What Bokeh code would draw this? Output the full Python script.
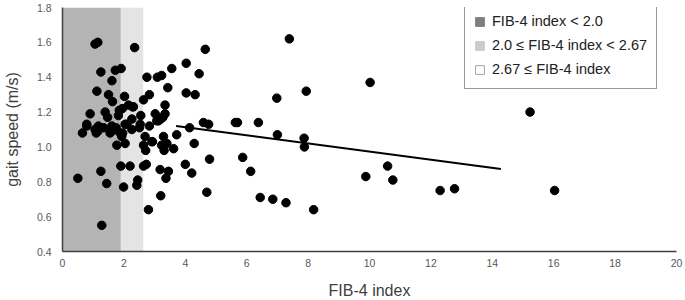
from bokeh.plotting import figure
from bokeh.models import FixedTicker, PrintfTickFormatter, Legend, LegendItem, Range1d
from bokeh.embed import file_html
from bokeh.resources import INLINE

# ---- data ----
fib4 = [0.50, 0.65, 0.79, 0.90, 1.06, 1.15, 1.12, 1.06, 1.10, 1.17, 1.25, 1.25, 1.28,
        1.39, 1.34, 1.47, 1.44, 1.50, 1.61, 1.60, 1.63, 1.72, 1.75, 1.77, 1.82, 1.85,
        1.91, 1.90, 1.95, 1.99, 2.02, 1.96, 2.04, 2.10, 2.15, 2.20, 2.26, 2.26, 2.31,
        2.35, 2.45, 2.42, 2.51, 2.55, 2.64, 2.64, 2.69, 2.71, 2.64, 2.73, 2.75, 2.80,
        2.83, 2.83, 2.91, 3.02, 3.09, 3.23, 3.13, 3.18, 3.20, 3.23, 3.27, 3.29, 3.31,
        3.34, 3.34, 3.37, 3.40, 3.43, 3.45, 3.56, 3.62, 3.72, 4.00, 4.03, 4.03, 4.14,
        4.21, 4.29, 4.32, 4.45, 4.59, 4.65, 4.70, 4.76, 4.79, 5.63, 5.70, 5.87, 6.13,
        6.38, 6.44, 6.85, 7.39, 10.02, 7.94, 6.98, 7.00, 7.87, 7.88, 10.59, 9.88, 10.76,
        7.28, 8.18, 15.23, 12.30, 12.77, 16.03,
        1.15, 1.61, 1.55, 1.72, 1.88, 1.93, 2.04, 2.53, 2.93, 3.07, 3.20, 2.28, 0.79]
gait = [0.82, 1.08, 1.13, 1.19, 1.59, 1.60, 1.32, 1.10, 1.08, 1.12, 1.43, 0.86, 0.55,
        1.20, 1.11, 1.17, 0.79, 1.30, 1.38, 1.09, 1.26, 1.44, 1.11, 1.01, 1.18, 1.21,
        1.45, 0.89, 1.22, 0.77, 1.29, 1.08, 1.02, 1.13, 1.24, 0.89, 1.10, 1.16, 1.23,
        1.57, 0.81, 0.78, 1.11, 1.18, 1.27, 1.01, 1.06, 0.98, 0.89, 0.90, 1.40, 0.64,
        1.30, 1.12, 1.03, 1.19, 1.40, 1.41, 1.15, 0.87, 0.72, 1.01, 1.17, 1.06, 0.98,
        1.24, 1.19, 0.82, 1.02, 1.34, 0.86, 1.45, 0.99, 1.07, 0.90, 1.48, 1.31, 1.11,
        0.85, 1.02, 1.30, 1.42, 1.14, 1.56, 0.74, 1.13, 0.93, 1.14, 1.14, 0.94, 0.86,
        1.14, 0.71, 0.70, 1.62, 1.37, 1.32, 1.28, 1.07, 1.05, 1.00, 0.89, 0.83, 0.81,
        0.68, 0.64, 1.20, 0.75, 0.76, 0.75,
        1.09, 1.12, 1.08, 1.10, 1.08, 1.06, 1.13, 1.13, 1.03, 1.15, 1.16, 1.23, 1.12]

fit_x = [3.70, 14.28]
fit_y = [1.12, 0.874]

band_dark = [0.0, 1.9]
band_light = [1.9, 2.63]

x_ticks = [0, 2, 4, 6, 8, 10, 12, 14, 16, 18, 20]
y_ticks = [0.4, 0.6, 0.8, 1.0, 1.2, 1.4, 1.6, 1.8]

legend_labels = ["FIB-4 index < 2.0", "2.0 \u2264 FIB-4 index < 2.67", "2.67 \u2264 FIB-4 index"]

FONT = "Liberation Sans"
NAN = float("nan")

p = figure(width=685, height=300, frame_width=614, frame_height=244,
           output_backend="svg", toolbar_location=None,
           x_range=Range1d(0, 20), y_range=Range1d(0.4, 1.8),
           min_border_left=59, min_border_right=12, min_border_top=7, min_border_bottom=49)
p.outline_line_color = None
p.xgrid.grid_line_color = None
p.ygrid.grid_line_color = None
p.background_fill_color = "white"

# shaded bands
p.quad(left=[band_dark[0]], right=[band_dark[1]], bottom=[y_ticks[0]], top=[y_ticks[-1]],
       fill_color="#b4b4b4", line_color=None)
p.quad(left=[band_light[0]], right=[band_light[1]], bottom=[y_ticks[0]], top=[y_ticks[-1]],
       fill_color="#e4e4e4", line_color=None)

# points
p.scatter(fib4, gait, size=8.5, fill_color="black", line_color="black")

# trend line
p.line(fit_x, fit_y, line_color="black", line_width=2)

# legend swatch renderers (no visible geometry)
r1 = p.quad(left=[NAN], right=[NAN], top=[NAN], bottom=[NAN], fill_color="#7f7f7f", line_color="#7f7f7f")
r2 = p.quad(left=[NAN], right=[NAN], top=[NAN], bottom=[NAN], fill_color="#cccccc", line_color="#cccccc")
r3 = p.quad(left=[NAN], right=[NAN], top=[NAN], bottom=[NAN], fill_color="white", line_color="#a6a6a6")

legend = Legend(items=[LegendItem(label=legend_labels[0], renderers=[r1]),
                       LegendItem(label=legend_labels[1], renderers=[r2]),
                       LegendItem(label=legend_labels[2], renderers=[r3])],
                location=(402, 162), orientation="vertical",
                border_line_color="#333333", border_line_width=1.5,
                background_fill_color="white", background_fill_alpha=1.0,
                glyph_width=11, glyph_height=11, label_standoff=7,
                label_text_font=FONT, label_text_font_size="14.5px", label_text_color="#222222",
                padding=9, spacing=4, label_height=20, margin=0)
p.add_layout(legend)

# axes
for ax in (p.xaxis[0], p.yaxis[0]):
    ax.major_tick_line_color = None
    ax.minor_tick_line_color = None
    ax.major_tick_out = 0
    ax.major_tick_in = 0
    ax.minor_tick_out = 0
    ax.minor_tick_in = 0
    ax.major_label_text_font = FONT
    ax.major_label_text_font_size = "10.5px"
    ax.major_label_text_color = "#595959"
    ax.axis_label_text_font = FONT
    ax.axis_label_text_font_size = "16px"
    ax.axis_label_text_font_style = "normal"
    ax.axis_label_text_color = "#404040"
    ax.axis_line_color = "#404040"
    ax.axis_line_width = 1.5

p.xaxis.ticker = FixedTicker(ticks=x_ticks)
p.yaxis.ticker = FixedTicker(ticks=y_ticks)
p.yaxis.formatter = PrintfTickFormatter(format="%.1f")
p.xaxis.axis_label = "FIB-4 index"
p.yaxis.axis_label = "gait speed (m/s)"
p.xaxis.major_label_standoff = 7
p.yaxis.major_label_standoff = 11
p.xaxis.axis_label_standoff = 12
p.yaxis.axis_label_standoff = 13

open("out.html", "w").write(file_html(p, INLINE))
